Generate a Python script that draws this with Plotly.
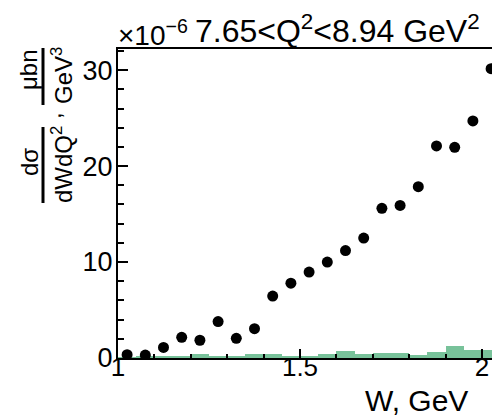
import plotly.graph_objects as go

# ---- data ----
W = [1.025, 1.075, 1.125, 1.175, 1.225, 1.275, 1.325, 1.375, 1.425, 1.475,
     1.525, 1.575, 1.625, 1.675, 1.725, 1.775, 1.825, 1.875, 1.925, 1.975, 2.025]
xsec = [0.35, 0.3, 1.1, 2.15, 1.85, 3.8, 2.05, 3.05, 6.45, 7.8,
        8.95, 10.0, 11.2, 12.5, 15.6, 15.9, 17.85, 22.1, 21.95, 24.7, 30.15]
syst = [0.02, 0.17, 0.17, 0.17, 0.42, 0.17, 0.17, 0.42, 0.42, 0.17,
        0.17, 0.42, 0.69, 0.45, 0.52, 0.52, 0.27, 0.62, 1.28, 0.79, 0.79]
bin_width = 0.05
x_ticks = [1, 1.5, 2]
x_ticklabels = ["1", "1.5", "2"]
y_ticks = [0, 10, 20, 30]
y_ticklabels = ["0", "10", "20", "30"]

FONT = "Liberation Sans, Arial, sans-serif"
GREEN = "#78c29a"

W_PX, H_PX = 492, 418
L, R, T, B = 118, 0, 49, 60
PW, PH = W_PX - L - R, H_PX - T - B


def pxx(p):
    return (p - L) / PW


def pxy(p):
    return (H_PX - B - p) / PH


fig = go.Figure()
fig.add_trace(go.Bar(x=W, y=syst, width=bin_width, marker=dict(color=GREEN, line=dict(width=0)),
                     showlegend=False, hoverinfo="skip"))
fig.add_trace(go.Scatter(x=W, y=xsec, mode="markers",
                         marker=dict(color="black", size=11, symbol="circle"),
                         showlegend=False))

fig.update_layout(
    width=W_PX, height=H_PX,
    margin=dict(l=L, r=R, t=T, b=B, pad=0),
    paper_bgcolor="white", plot_bgcolor="white",
    bargap=0,
    font=dict(family=FONT, color="black"),
    xaxis=dict(range=[1, 1 + PW / 364], tickvals=x_ticks, ticktext=x_ticklabels,
               ticks="inside", ticklen=9, tickwidth=2, tickcolor="black",
               showline=True, linewidth=2, linecolor="black", mirror=True,
               showgrid=False, zeroline=False, tickfont=dict(size=26, family=FONT),
               ticklabelstandoff=-15,
               minor=dict(dtick=0.1, tick0=1, ticks="inside", ticklen=4, tickwidth=1.5,
                          tickcolor="black", showgrid=False)),
    yaxis=dict(range=[0, 32.2], tickvals=y_ticks, ticktext=y_ticklabels,
               ticks="inside", ticklen=10, tickwidth=2, tickcolor="black",
               showline=True, linewidth=2, linecolor="black", mirror=False,
               showgrid=False, zeroline=False, tickfont=dict(size=27, family=FONT),
               ticklabelstandoff=-2,
               minor=dict(dtick=2, tick0=0, ticks="inside", ticklen=6, tickwidth=1.5,
                          tickcolor="black", showgrid=False)),
)

ann = []
# multiplier and title
ann.append(dict(text="×10<sup>−6</sup>", x=pxx(116), y=pxy(33), xref="paper", yref="paper",
                xanchor="left", yanchor="middle", showarrow=False,
                font=dict(size=28, family=FONT, color="black")))
ann.append(dict(text="7.65&lt;Q<sup>2</sup>&lt;8.94 GeV<sup>2</sup>", x=pxx(193), y=pxy(29),
                xref="paper", yref="paper", xanchor="left", yanchor="middle",
                showarrow=False, font=dict(size=32, family=FONT, color="black")))
# x axis title
ann.append(dict(text="W, GeV", x=pxx(416), y=pxy(400), xref="paper", yref="paper",
                xanchor="center", yanchor="middle", showarrow=False,
                font=dict(size=30, family=FONT, color="black")))
# y axis title (rotated fractions)
ytitle = [("μbn", 29, 70), ("GeV<sup>3</sup>", 62, 76), ("dσ", 29, 162), ("dWdQ<sup>2</sup>", 62, 165),
          (",", 52, 116)]
for txt, x, y in ytitle:
    ann.append(dict(text=txt, x=pxx(x), y=pxy(y), xref="paper", yref="paper", textangle=-90,
                    xanchor="center", yanchor="middle", showarrow=False,
                    font=dict(size=24, family=FONT, color="black")))
fig.update_layout(annotations=ann)

shapes = [
    dict(type="line", xref="paper", yref="paper", x0=pxx(43), x1=pxx(43), y0=pxy(48), y1=pxy(105),
         line=dict(color="black", width=3)),
    dict(type="line", xref="paper", yref="paper", x0=pxx(43), x1=pxx(43), y0=pxy(127), y1=pxy(203),
         line=dict(color="black", width=3)),
]
fig.update_layout(shapes=shapes)

fig.write_html("out.html")
